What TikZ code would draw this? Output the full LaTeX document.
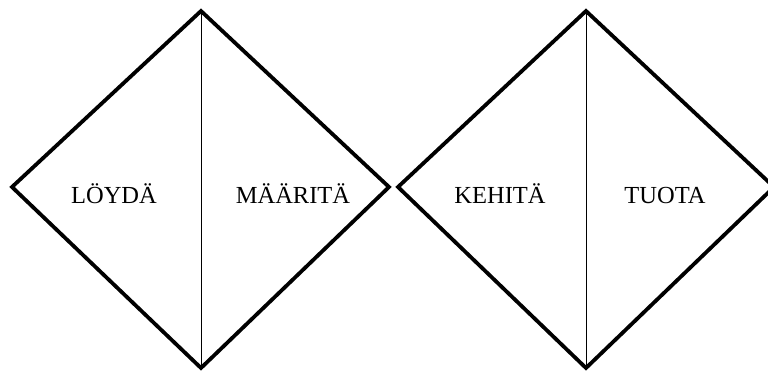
\documentclass[tikz,border=0pt]{standalone}
\usepackage{fontspec}
\setmainfont{Liberation Serif}
\usetikzlibrary{positioning,calc}

\begin{document}
\begin{tikzpicture}[x=1pt,y=-1pt,
    phase/.style={line width=3.8pt,line join=miter},
    split/.style={line width=1pt},
    word/.style={font=\fontsize{24.5}{24.5}\selectfont,anchor=base}]
  \useasboundingbox (0,0) rectangle (768,372);
  \clip (0,0) rectangle (768,372);
  % left diamond
  \coordinate (lt) at (201,11);
  \coordinate (lb) at (201,368);
  \draw[phase] (12,187)--(lt)--(389,187)--(lb)--cycle;
  \draw[split] (lt)--(lb);
  % right diamond
  \coordinate (rt) at (586,11);
  \coordinate (rb) at (586,368);
  \draw[phase] (398,187)--(rt)--(774,187)--(rb)--cycle;
  \draw[split] (rt)--(rb);
  \node[word] (loyda) at (114,203) {LÖYDÄ};
  \node[word] (maarita) at (293,203) {MÄÄRITÄ};
  \node[word] (kehita) at (500,203) {KEHITÄ};
  \node[word] (tuota) at (665,203) {TUOTA};
\end{tikzpicture}
\end{document}
